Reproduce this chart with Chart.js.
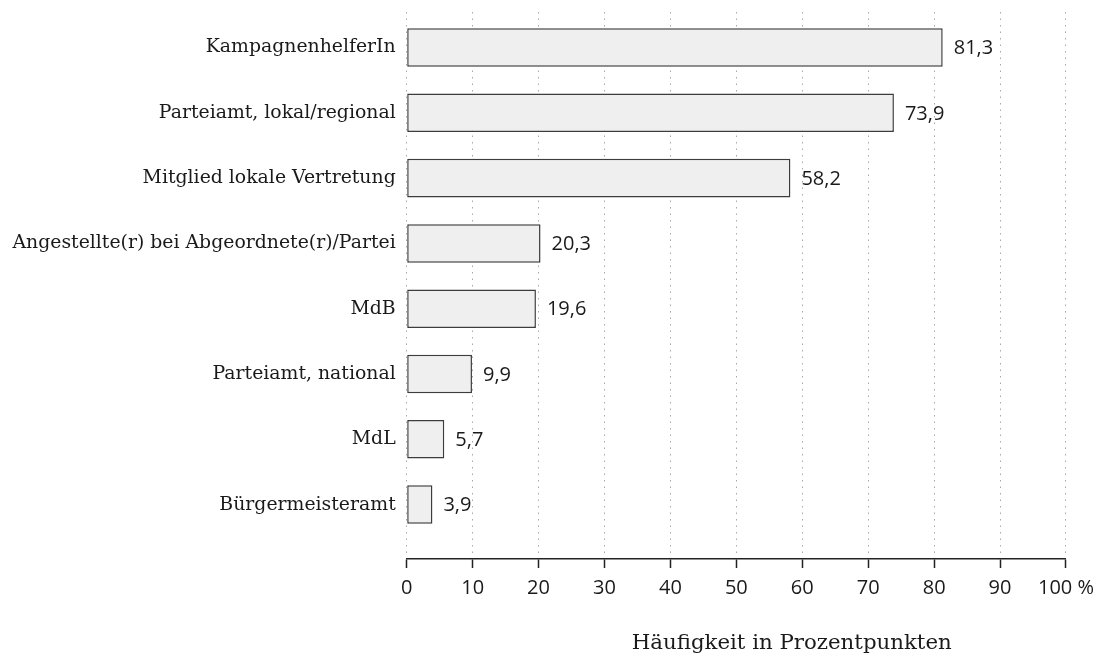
<!DOCTYPE html>
<html>
<head>
<meta charset="utf-8">
<script src="https://cdn.jsdelivr.net/npm/chart.js@4.4.1/dist/chart.umd.min.js"></script>
<style>
body{margin:0;background:#fff;}
</style>
</head>
<body>
<canvas id="chart1" width="1102" height="664"></canvas>
<script>
const categories = [
  "KampagnenhelferIn",
  "Parteiamt, lokal/regional",
  "Mitglied lokale Vertretung",
  "Angestellte(r) bei Abgeordnete(r)/Partei",
  "MdB",
  "Parteiamt, national",
  "MdL",
  "Bürgermeisteramt"
]
const values = [81.3, 73.9, 58.2, 20.3, 19.6, 9.9, 5.7, 3.9]
const xTicks = [0, 10, 20, 30, 40, 50, 60, 70, 80, 90, 100]
const axisTitle = "Häufigkeit in Prozentpunkten"

const serif = "'DejaVu Serif', serif"
const sans = "'Open Sans', sans-serif"

// value labels right of the bars
const barLabels = {
  id: 'barLabels',
  afterDatasetsDraw(chart){
    const ctx = chart.ctx
    const meta = chart.getDatasetMeta(0)
    ctx.save()
    ctx.font = "20px " + sans
    ctx.fillStyle = "#1a1a1a"
    ctx.textAlign = "left"
    ctx.textBaseline = "middle"
    meta.data.forEach((bar, i) => {
      ctx.fillText(values[i].toFixed(1).replace('.', ','), bar.x + 11, bar.y + 1)
    })
    ctx.restore()
  }
}

// axis title, sits right of centre in the original
const xTitle = {
  id: 'xTitle',
  afterDraw(chart){
    const ctx = chart.ctx
    const x = chart.scales.x.getPixelForValue(58.4)
    ctx.save()
    ctx.font = "21.3px " + serif
    ctx.fillStyle = "#1a1a1a"
    ctx.textAlign = "center"
    ctx.textBaseline = "middle"
    ctx.fillText(axisTitle, x, 643)
    ctx.restore()
  }
}

new Chart(document.getElementById("chart1"), {
  type: 'bar',
  data: {
    datasets: [{
      data: values.map((v, i) => ({x: v, y: i})),
      backgroundColor: "#efefef",
      borderColor: "#3c3c3c",
      borderWidth: 1.5,
      borderSkipped: false,
      barPercentage: 0.59,
      categoryPercentage: 1
    }]
  },
  options: {
    indexAxis: 'y',
    responsive: false,
    animation: false,
    layout: {padding: {left: 0, top: 12, right: 36, bottom: 0}},
    plugins: {
      legend: {display: false},
      tooltip: {enabled: false}
    },
    scales: {
      y: {
        type: 'linear',
        reverse: true,
        offset: false,
        min: -0.544,
        max: 7.833,
        afterFit: s => { s.width = 406.7; s.paddingTop = 0; s.paddingBottom = 0 },
        afterBuildTicks: s => { s.ticks = categories.map((c, i) => ({value: i})) },
        grid: {display: false, drawTicks: false, tickLength: 0, offset: false},
        border: {display: false},
        ticks: {
          padding: 11,
          color: "#1a1a1a",
          font: {family: serif, size: 18.85},
          callback: v => categories[v]
        }
      },
      x: {
        type: 'linear',
        min: 0,
        max: 100,
        afterFit: s => { s.height = 105 },
        afterBuildTicks: s => { s.ticks = xTicks.map(v => ({value: v})) },
        grid: {
          color: "#a8a8a8",
          lineWidth: 1,
          tickColor: "#222",
          tickLength: 9,
          tickWidth: 1.5
        },
        border: {display: true, color: "#222", width: 1.5, dash: [1.5, 5]},
        ticks: {
          padding: 8,
          color: "#1a1a1a",
          font: {family: sans, size: 20},
          maxRotation: 0,
          callback: v => v === 100 ? "100 %" : String(v)
        }
      }
    }
  },
  plugins: [barLabels, xTitle]
})
</script>
</body>
</html>
